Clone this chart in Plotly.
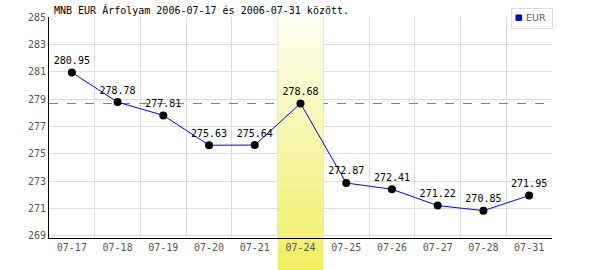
import plotly.graph_objects as go

dates = ["07-17", "07-18", "07-19", "07-20", "07-21", "07-24",
         "07-25", "07-26", "07-27", "07-28", "07-31"]
eur = [280.95, 278.78, 277.81, 275.63, 275.64, 278.68,
       272.87, 272.41, 271.22, 270.85, 271.95]
y_ticks = [269, 271, 273, 275, 277, 279, 281, 283, 285]
highlight = "07-24"
ref_value = 278.68
series_name = "EUR"
title_text = "MNB EUR Árfolyam 2006-07-17 és 2006-07-31 között."

Y_LO, Y_HI = 268.85, 285.0
MONO = "DejaVu Sans Mono"
PW, PH = 503, 221  # plot area size in px


def px_x(px):
    return (px - 49) / PW


def px_y(py):
    return 1 - (py - 17) / PH


fig = go.Figure()
fig.add_trace(go.Scatter(
    x=dates, y=eur, mode="lines+markers+text", name=series_name,
    text=[f"{v:.2f}" for v in eur], textposition="top center",
    textfont=dict(family=MONO, size=10, color="#000000"),
    line=dict(color="#0000ff", width=1),
    marker=dict(color="#000000", size=8),
    showlegend=False, cliponaxis=False,
))

shapes = []
# reference dashed line
shapes.append(dict(type="line", xref="x", yref="y", x0=-0.5, x1=10.5,
                   y0=ref_value, y1=ref_value, layer="between",
                   line=dict(color="#6f6fff", width=1, dash="dash")))
# gradient band for highlighted day
hi_idx = dates.index(highlight)
p_bottom = -32 / PH
p_top = 1.0
n = 90
top_c = (0xFE, 0xFE, 0xF2)
bot_c = (0xF0, 0xEF, 0x60)
for i in range(n):
    p0 = p_bottom + (p_top - p_bottom) * i / n
    p1 = p_bottom + (p_top - p_bottom) * (i + 1) / n
    t = (i + 0.5) / n
    c = tuple(round(bot_c[k] + (top_c[k] - bot_c[k]) * t) for k in range(3))
    col = "rgb(%d,%d,%d)" % c
    if p1 <= 0:
        shapes.append(dict(type="rect", xref="x", yref="paper",
                           x0=hi_idx - 0.5, x1=hi_idx + 0.5, y0=p0, y1=p1 + 0.002,
                           fillcolor=col, line=dict(width=0), layer="below"))
    else:
        p0c = max(p0, 0)
        y0 = Y_LO + p0c * (Y_HI - Y_LO)
        y1 = Y_LO + p1 * (Y_HI - Y_LO)
        shapes.append(dict(type="rect", xref="x", yref="y",
                           x0=hi_idx - 0.5, x1=hi_idx + 0.5, y0=y0, y1=y1 + 0.02,
                           fillcolor=col, line=dict(width=0), layer="between"))
        if p0 < 0:
            shapes.append(dict(type="rect", xref="x", yref="paper",
                               x0=hi_idx - 0.5, x1=hi_idx + 0.5, y0=p0, y1=0.01,
                               fillcolor=col, line=dict(width=0), layer="below"))

# legend box (drawn manually to match the compact original)
shapes.append(dict(type="rect", xref="paper", yref="paper",
                   x0=px_x(511.5), x1=px_x(552.5), y0=px_y(28.5), y1=px_y(8.5),
                   fillcolor="#ffffff", line=dict(color="#dddddd", width=1),
                   layer="above"))
shapes.append(dict(type="rect", xref="paper", yref="paper",
                   x0=px_x(516), x1=px_x(521.5), y0=px_y(20.5), y1=px_y(15),
                   fillcolor="#0000ff", line=dict(color="#000080", width=1),
                   layer="above"))

fig.update_layout(
    width=600, height=270,
    margin=dict(l=49, r=48, t=17, b=32, pad=0),
    paper_bgcolor="#ffffff", plot_bgcolor="#ffffff",
    font=dict(family=MONO, size=10, color="#555555"),
    shapes=shapes,
    showlegend=False,
    annotations=[
        dict(text=title_text, xref="paper", yref="paper",
             x=0, y=1, xanchor="left", yanchor="bottom",
             xshift=3, yshift=-1, showarrow=False,
             font=dict(family=MONO, size=10, color="#000000")),
        dict(text=series_name, xref="paper", yref="paper",
             x=px_x(523.5), y=px_y(18), xanchor="left", yanchor="middle",
             showarrow=False,
             font=dict(family="DejaVu Sans", size=9.5, color="#555555")),
    ],
)
fig.update_xaxes(type="category", range=[-0.5, 10.5], tickson="boundaries",
                 ticks="", showgrid=True, gridcolor="#dddddd", gridwidth=1,
                 showline=True, linecolor="#000000", linewidth=1,
                 tickfont=dict(family=MONO, size=10, color="#555555"),
                 fixedrange=True)
fig.update_yaxes(range=[Y_LO, Y_HI], tickvals=y_ticks, ticks="",
                 showgrid=True, gridcolor="#dddddd", gridwidth=1,
                 showline=True, linecolor="#000000", linewidth=1,
                 zeroline=False,
                 tickfont=dict(family=MONO, size=10, color="#555555"),
                 fixedrange=True)

fig.write_html("out.html")
